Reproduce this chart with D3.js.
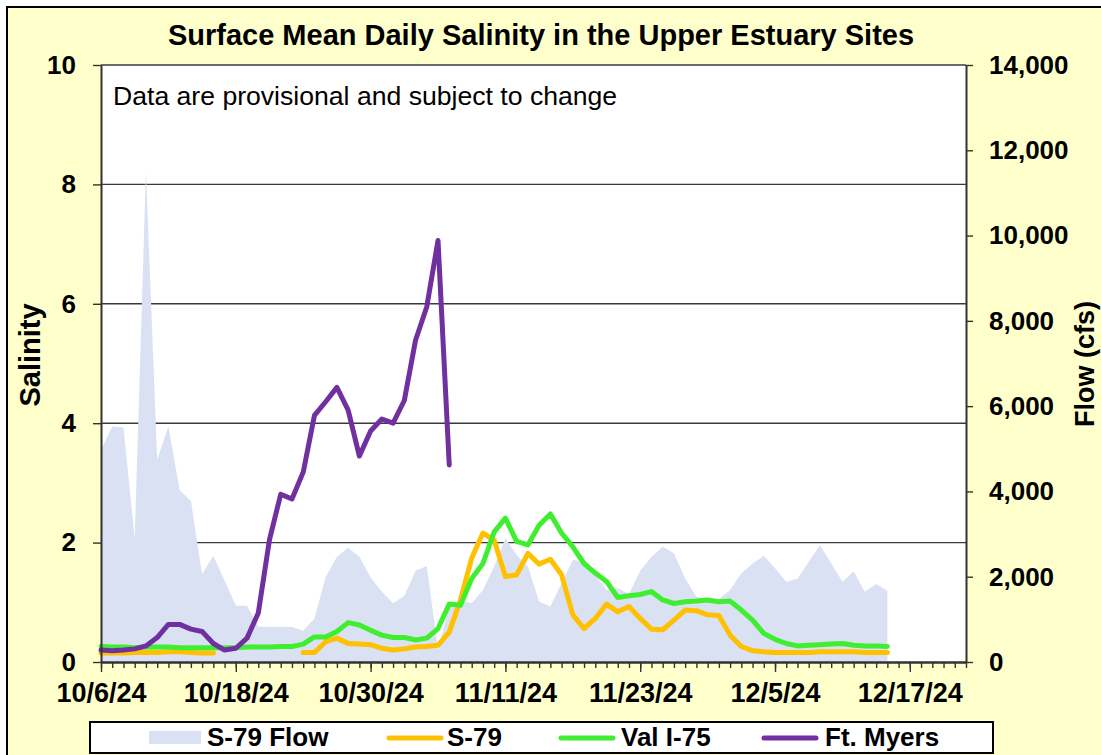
<!DOCTYPE html>
<html>
<head>
<meta charset="utf-8">
<script src="https://cdn.jsdelivr.net/npm/d3@7"></script>
<style>
html,body{margin:0;padding:0;background:#fff;}
svg{display:block;}
text{font-family:"Liberation Sans",Arial,sans-serif;}
</style>
</head>
<body>
<svg id="chart" width="1101" height="755"></svg>
<script>
// ---- data ----
const startDate = "2024-10-06";
const endDate = "2024-12-22";
const nDays = 71; // 10/6/24 .. 12/15/24
const flowS79 = [4970,5520,5500,2900,11500,4740,5530,4030,3780,2060,2490,1910,1320,1320,830,820,820,820,730,1020,1990,2470,2680,2470,1980,1650,1380,1550,2140,2250,280,1300,1450,1380,1690,2240,2900,2510,2240,1420,1300,1850,2390,2350,2040,1690,1730,1600,2140,2470,2700,2550,1960,1530,1450,1470,1690,2080,2310,2490,2200,1880,1950,2350,2740,2310,1880,2120,1650,1830,1670];
const salS79 = [0.15,0.15,0.15,0.16,0.16,0.16,0.17,0.17,0.16,0.15,0.15,null,null,null,null,null,null,null,0.16,0.16,0.34,0.40,0.31,0.30,0.29,0.23,0.20,0.22,0.25,0.26,0.28,0.50,1.04,1.74,2.16,2.04,1.43,1.46,1.82,1.64,1.72,1.46,0.79,0.56,0.73,0.97,0.84,0.93,0.73,0.55,0.54,0.70,0.87,0.86,0.79,0.78,0.45,0.26,0.19,0.17,0.16,0.16,0.16,0.16,0.17,0.17,0.17,0.17,0.16,0.16,0.16];
const salValI75 = [0.26,0.25,0.25,0.24,0.25,0.25,0.25,0.24,0.24,0.24,0.24,0.24,0.24,0.25,0.25,0.25,0.26,0.26,0.30,0.42,0.42,0.51,0.66,0.62,0.53,0.45,0.41,0.41,0.37,0.40,0.56,0.97,0.95,1.40,1.65,2.18,2.41,2.02,1.96,2.29,2.48,2.16,1.93,1.65,1.49,1.35,1.08,1.11,1.13,1.18,1.04,0.98,1.01,1.02,1.04,1.01,1.02,0.87,0.70,0.48,0.38,0.31,0.27,0.28,0.29,0.30,0.31,0.28,0.27,0.27,0.26];
const salFtMyers = [0.20,0.19,0.20,0.22,0.27,0.41,0.63,0.63,0.55,0.51,0.31,0.20,0.23,0.40,0.82,2.05,2.81,2.73,3.18,4.13,4.36,4.60,4.22,3.45,3.87,4.07,4.00,4.38,5.39,5.95,7.06,3.30];
const salTicks = [0,2,4,6,8,10];
const flowTicks = [0,2000,4000,6000,8000,10000,12000,14000];
const majorTickDates = ["2024-10-06","2024-10-18","2024-10-30","2024-11-11","2024-11-23","2024-12-05","2024-12-17"];
const seriesNames = ["S-79 Flow","S-79","Val I-75","Ft. Myers"];
const seriesColors = ["#D9E1F2","#FFC000","#3FEF2F","#7030A0"];
const titleText = "Surface Mean Daily Salinity in the Upper Estuary Sites";
const noteText = "Data are provisional and subject to change";

// ---- setup ----
const parse = d3.timeParse("%Y-%m-%d");
const t0 = parse(startDate), t1 = parse(endDate);
const dates = d3.range(nDays).map(i => d3.timeDay.offset(t0, i));

const svg = d3.select("#chart");
const L = 101, R = 966, T = 65, B = 662;

const x = d3.scaleTime().domain([t0, t1]).range([L, R]);
const yS = d3.scaleLinear().domain([0, 10]).range([B, T]);
const yF = d3.scaleLinear().domain([0, 14000]).range([B, T]);

// outer frame
svg.append("rect").attr("x", 7).attr("y", 7).attr("width", 1110).attr("height", 760)
  .attr("fill", "#FFFFCC").attr("stroke", "#000").attr("stroke-width", 2);

// plot area
svg.append("rect").attr("x", L).attr("y", T).attr("width", R - L).attr("height", B - T).attr("fill", "#fff");

// gridlines
svg.append("g").selectAll("line").data(salTicks.filter(d => d > 0)).join("line")
  .attr("x1", L).attr("x2", R).attr("y1", d => yS(d)).attr("y2", d => yS(d))
  .attr("stroke", "#3a3a3a").attr("stroke-width", 1.4);

// flow area
const area = d3.area().x((d, i) => x(dates[i])).y0(B).y1(d => yF(d));
svg.append("path").datum(flowS79).attr("d", area).attr("fill", seriesColors[0]);

// salinity lines
const line = d3.line().defined(d => d != null).x((d, i) => x(dates[i])).y(d => yS(d));
[[salS79, seriesColors[1]], [salValI75, seriesColors[2]], [salFtMyers, seriesColors[3]]].forEach(([data, c]) => {
  svg.append("path").datum(data).attr("d", line).attr("fill", "none")
    .attr("stroke", c).attr("stroke-width", 5).attr("stroke-linejoin", "round").attr("stroke-linecap", "round");
});

// axes
const axisColor = "#333";
const gL = svg.append("g").attr("transform", `translate(${L},0)`)
  .call(d3.axisLeft(yS).tickValues(salTicks).tickSize(8).tickSizeOuter(0).tickPadding(17).tickFormat(d3.format("d")));
const gR = svg.append("g").attr("transform", `translate(${R},0)`)
  .call(d3.axisRight(yF).tickValues(flowTicks).tickSize(7).tickSizeOuter(0).tickPadding(16).tickFormat(d3.format(",")));

// x minor ticks
const gXm = svg.append("g").attr("transform", `translate(0,${B})`)
  .call(d3.axisBottom(x).ticks(d3.timeDay.every(1)).tickSize(6).tickSizeOuter(0).tickFormat(""));
const gX = svg.append("g").attr("transform", `translate(0,${B})`)
  .call(d3.axisBottom(x).tickValues(majorTickDates.map(parse)).tickSize(10).tickSizeOuter(0).tickPadding(11)
    .tickFormat(d => `${d.getMonth() + 1}/${d.getDate()}/${String(d.getFullYear()).slice(2)}`));

[gL, gR, gXm, gX].forEach(g => {
  g.select(".domain").attr("stroke", axisColor).attr("stroke-width", 2);
  g.selectAll(".tick line").attr("stroke", axisColor).attr("stroke-width", 1.4);
  g.selectAll("text").attr("font-size", 26).attr("font-weight", "bold").attr("fill", "#000")
    .attr("font-family", "'Liberation Sans',Arial,sans-serif");
});
gX.selectAll("text").attr("font-size", 27);

// titles
svg.append("text").attr("x", 541).attr("y", 45).attr("text-anchor", "middle")
  .attr("font-size", 29).attr("font-weight", "bold").text(titleText);
svg.append("text").attr("x", 113).attr("y", 105).attr("font-size", 26.6).text(noteText);
svg.append("text").attr("transform", "translate(40,355) rotate(-90)").attr("text-anchor", "middle")
  .attr("font-size", 29).attr("font-weight", "bold").text("Salinity");
svg.append("text").attr("transform", "translate(1094,364) rotate(-90)").attr("text-anchor", "middle")
  .attr("font-size", 27).attr("font-weight", "bold").text("Flow (cfs)");

// legend
const lg = svg.append("g");
lg.append("rect").attr("x", 90).attr("y", 722).attr("width", 903).attr("height", 31)
  .attr("fill", "#fff").attr("stroke", "#000").attr("stroke-width", 2);
const legendItems = [
  {name: seriesNames[0], color: seriesColors[0], type: "area", sx: 149, tx: 207},
  {name: seriesNames[1], color: seriesColors[1], type: "line", sx: 389, tx: 447},
  {name: seriesNames[2], color: seriesColors[2], type: "line", sx: 561, tx: 621},
  {name: seriesNames[3], color: seriesColors[3], type: "line", sx: 764, tx: 825}
];
legendItems.forEach(it => {
  if (it.type === "area") {
    lg.append("rect").attr("x", it.sx).attr("y", 731).attr("width", 52).attr("height", 13).attr("fill", it.color);
  } else {
    lg.append("line").attr("x1", it.sx).attr("x2", it.sx + 52).attr("y1", 738).attr("y2", 738)
      .attr("stroke", it.color).attr("stroke-width", 5).attr("stroke-linecap", "round");
  }
  lg.append("text").attr("x", it.tx).attr("y", 746).attr("font-size", 26).attr("font-weight", "bold").text(it.name);
});
</script>
</body>
</html>
